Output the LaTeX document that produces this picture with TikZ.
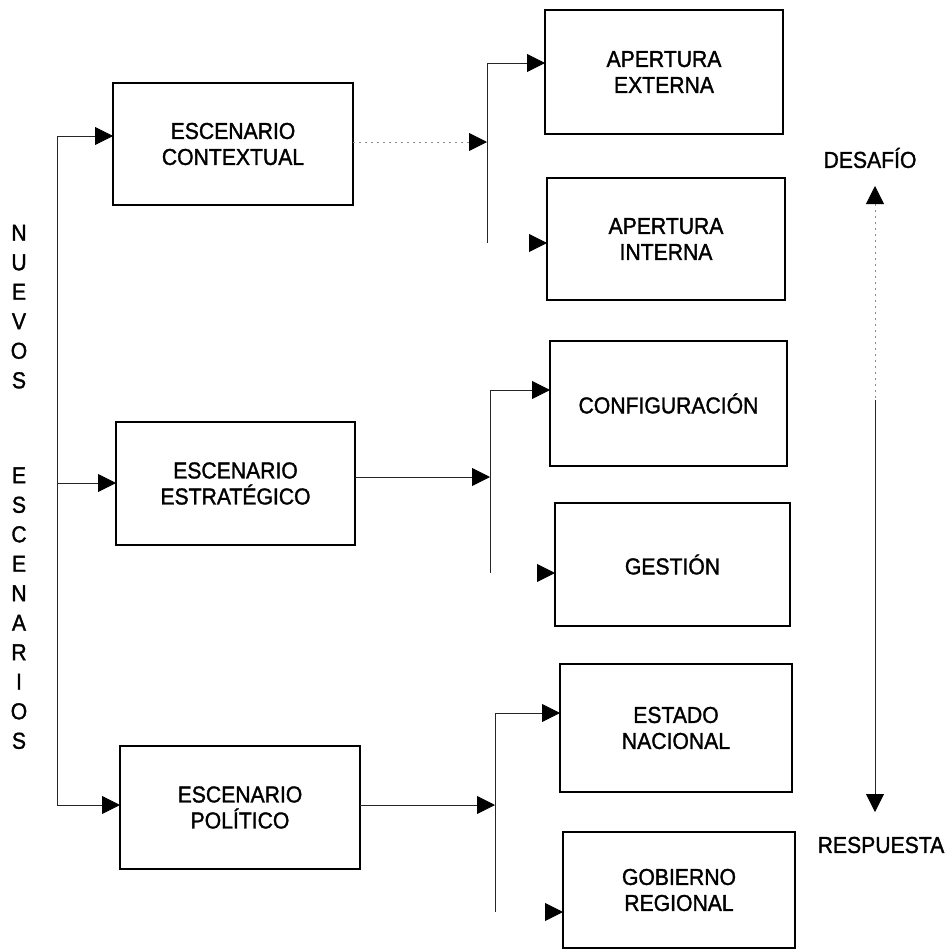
\documentclass[tikz,border=0pt]{standalone}
\usepackage{fontspec}
\setmainfont{Liberation Sans}[FakeStretch=0.92,FakeBold=1.4]
\usetikzlibrary{arrows.meta}
\begin{document}
\begin{tikzpicture}[x=1pt,y=-1pt,
  box/.style={draw=black, line width=2.4pt, inner sep=0pt, outer sep=0pt,
    align=center, font=\fontsize{23}{26}\selectfont},
  label/.style={inner sep=0pt, align=center, font=\fontsize{23}{26}\selectfont},
  letters/.style={inner sep=0pt, align=center, anchor=north,
    font=\fontsize{23}{29.5}\selectfont},
  link/.style={draw=black!85, line width=0.8pt},
  faint/.style={draw=black!45, line width=0.8pt, dash pattern=on 2pt off 4pt},
  tip/.style={-{Triangle[length=18pt,width=18pt,color=black]}}]
\useasboundingbox (0,0) rectangle (947,951);

% left column of scenarios
\node[box, minimum width=240pt, minimum height=122pt] (ctx) at (233,144) {ESCENARIO\\CONTEXTUAL};
\node[box, minimum width=239pt, minimum height=123pt] (est) at (235.5,483.5) {ESCENARIO\\ESTRATÉGICO};
\node[box, minimum width=240pt, minimum height=123pt] (pol) at (240,807.5) {ESCENARIO\\POLÍTICO};

% right column
\node[box, minimum width=238pt, minimum height=124pt] (ext) at (664,72) {APERTURA\\EXTERNA};
\node[box, minimum width=238pt, minimum height=122pt] (int) at (666,239) {APERTURA\\INTERNA};
\node[box, minimum width=237pt, minimum height=125pt] (conf) at (668.5,403.5) {CONFIGURACIÓN};
\node[box, minimum width=235pt, minimum height=123pt] (ges) at (672.5,564.5) {GESTIÓN};
\node[box, minimum width=232pt, minimum height=128pt] (nac) at (676,728) {ESTADO\\NACIONAL};
\node[box, minimum width=232pt, minimum height=116pt] (reg) at (679,890) {GOBIERNO\\REGIONAL};

% vertical caption
\node[letters] (nuevos) at (19,224.7) {N\\U\\E\\V\\O\\S};
\node[letters] (escen) at (19,467.2) {E\\S\\C\\E\\N\\A\\R\\I\\O\\S};

% trunk feeding the three scenarios
\coordinate (t1) at (57,136);
\coordinate (t2) at (57,483);
\coordinate (t3) at (57,805);
\draw[link] (t1) -- (t3);
\draw[link, tip] (t1) -- (ctx.west |- t1);
\draw[link, tip] (t2) -- (est.west |- t2);
\draw[link, tip] (t3) -- (pol.west |- t3);

% branch: contextual
\coordinate (a1) at (487,63);
\coordinate (a2) at (487,243);
\coordinate (aj) at (487,142);
\coordinate (ah) at (469,142);
\draw[faint] (ctx.east |- aj) -- (ah);
\draw[link, tip] (ah) -- (aj);
\draw[link] (a1) -- (a2);
\draw[link, tip] (a1) -- (ext.west |- a1);
\draw[link, tip] ([xshift=-18pt]int.west |- a2) -- (int.west |- a2);

% branch: strategic
\coordinate (b1) at (490,390);
\coordinate (b2) at (490,573);
\coordinate (bj) at (490,477);
\draw[link, tip] (est.east |- bj) -- (bj);
\draw[link] (b1) -- (b2);
\draw[link, tip] (b1) -- (conf.west |- b1);
\draw[link, tip] ([xshift=-18pt]ges.west |- b2) -- (ges.west |- b2);

% branch: political
\coordinate (c1) at (495,713);
\coordinate (c2) at (495,912);
\coordinate (cj) at (495,805);
\draw[link, tip] (pol.east |- cj) -- (cj);
\draw[link] (c1) -- (c2);
\draw[link, tip] (c1) -- (nac.west |- c1);
\draw[link, tip] ([xshift=-18pt]reg.west |- c2) -- (reg.west |- c2);

% challenge / response axis
\node[label] (des) at (870,158) {DESAFÍO};
\node[label] (res) at (881,845) {RESPUESTA};
\coordinate (d0) at (875,186);
\coordinate (d1) at (875,204);
\coordinate (d2) at (875,400);
\coordinate (d3) at (875,812);
\draw[link, tip] (d1) -- (d0);
\draw[faint] (d1) -- (d2);
\draw[link, tip] (d2) -- (d3);
\end{tikzpicture}
\end{document}
